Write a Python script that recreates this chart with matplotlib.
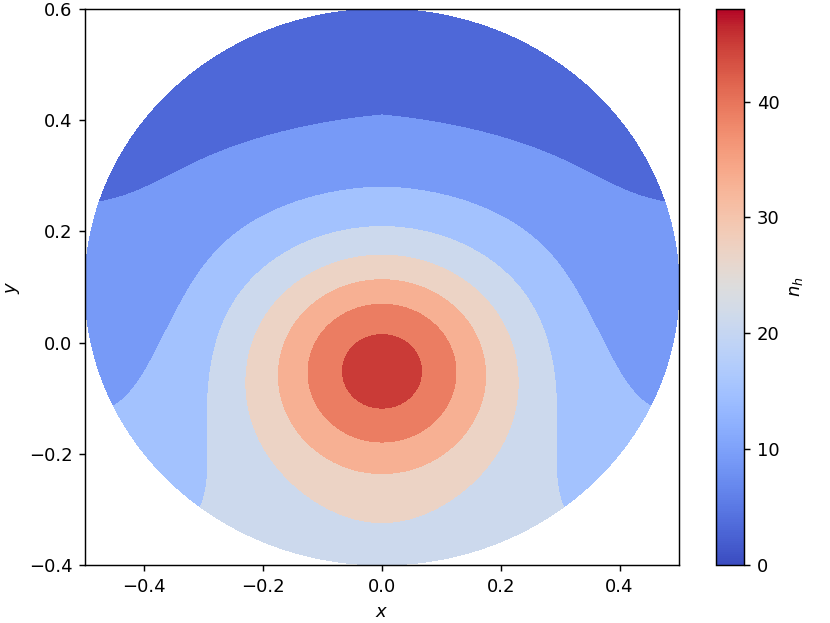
import numpy as np
import matplotlib
matplotlib.use("Agg")
import matplotlib.pyplot as plt
from matplotlib import cm, colors

# disc the field lives on
disc_centre = (0.0, 0.1)
disc_radius = 0.5

levels = [0, 6, 12, 18, 24, 30, 36, 42, 48]
cbar_ticks = [0, 10, 20, 30, 40]

# hot spot (fitted to the traced red rings)
peak_height = 29.329
peak_centre = (0.0, -0.04301)
peak_sx = 0.14680
peak_sy = 0.14758

# background along x = 0, polynomial in y (c0 + c1 y + ...)
bg_coef = [14.99413, -12.47090, -24.60859, -41.00049, 123.30786]

# drop of the background towards the sides:
# D / (1 + exp(-(|x| - xc(y)) / w(y)))
side_drop = 4.42502
side_xc = [0.29647, -0.06915, 0.15162]      # xc = a0 + a1 y + a2 y^2
side_logw = [-3.48663, 1.91928, 5.61874]    # log w = b0 + b1 y + b2 y^2


def n_field(x, y):
    g = peak_height*np.exp(-(x - peak_centre[0])**2/(2*peak_sx**2)
                           - (y - peak_centre[1])**2/(2*peak_sy**2))
    bv = sum(c*y**k for k, c in enumerate(bg_coef))
    xc = sum(c*y**k for k, c in enumerate(side_xc))
    w = np.exp(sum(c*y**k for k, c in enumerate(side_logw)))
    bh = side_drop/(1 + np.exp(-(np.abs(x) - xc)/w))
    return bv - bh + g


# polar grid so the disc edge comes out round
r = np.linspace(0, disc_radius, 250)
t = np.linspace(0, 2*np.pi, 721)
R, T = np.meshgrid(r, t)
X = disc_centre[0] + R*np.cos(T)
Y = disc_centre[1] + R*np.sin(T)
n_h = n_field(X, Y)

dpi = 130
fig = plt.figure(figsize=(830/dpi, 623/dpi), dpi=dpi)
ax = fig.add_axes([0.1024, 0.0931, 0.7157, 0.8925])
cax = fig.add_axes([0.8627, 0.0931, 0.0337, 0.8925])

ax.contourf(X, Y, n_h, levels=levels, cmap='coolwarm')
ax.set_xlim(-0.5, 0.5)
ax.set_ylim(-0.4, 0.6)
ax.set_xlabel('$x$')
ax.set_ylabel('$y$')

sm = cm.ScalarMappable(norm=colors.Normalize(0, 48), cmap='coolwarm')
cb = fig.colorbar(sm, cax=cax, ticks=cbar_ticks)
cb.set_label('$n_h$')

fig.savefig('out.png', dpi=dpi)
